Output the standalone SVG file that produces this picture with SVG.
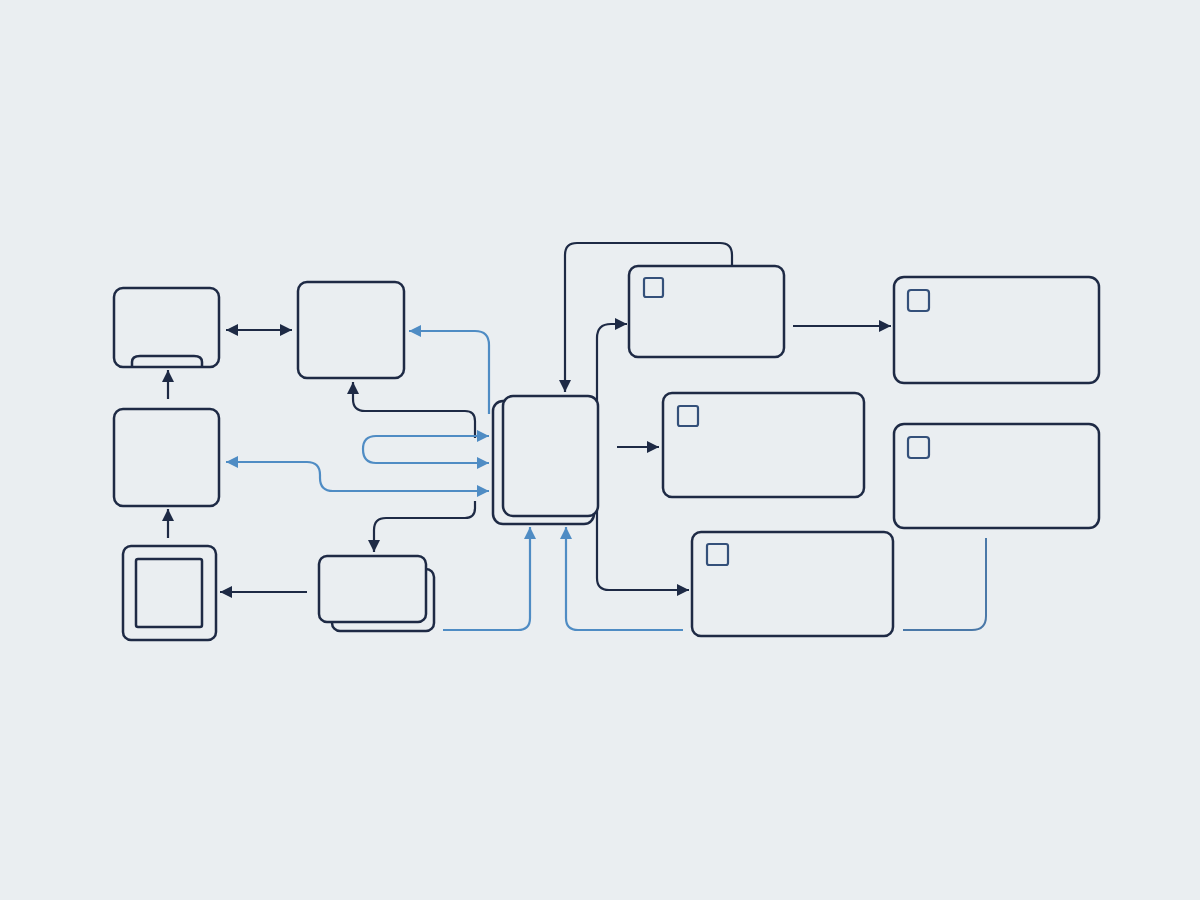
<svg xmlns="http://www.w3.org/2000/svg" width="1200" height="900" viewBox="0 0 1200 900">
<defs>
<style>
.n{fill:none;stroke:#1e2a45;stroke-width:2.5}
.f{fill:#eaeef1;stroke:#1e2a45;stroke-width:2.5}
.ic{fill:none;stroke:#34507a;stroke-width:2.2}
.d{fill:none;stroke:#1e2a45;stroke-width:2.2}
.b{fill:none;stroke:#4f8cc4;stroke-width:2.2}
</style>
<marker id="ad" viewBox="0 0 10 10" refX="10" refY="5" markerWidth="5.5" markerHeight="5.5" markerUnits="strokeWidth" orient="auto-start-reverse"><path d="M0,0 L10,5 L0,10 z" fill="#1e2a45"/></marker>
<marker id="ab" viewBox="0 0 10 10" refX="10" refY="5" markerWidth="5.5" markerHeight="5.5" markerUnits="strokeWidth" orient="auto-start-reverse"><path d="M0,0 L10,5 L0,10 z" fill="#4f8cc4"/></marker>
</defs>
<rect width="1200" height="900" fill="#eaeef1"/>

<g id="connectors">
<path class="d" d="M226,330 H292" marker-start="url(#ad)" marker-end="url(#ad)"/>
<path class="d" d="M168,399 V370" marker-end="url(#ad)"/>
<path class="d" d="M168,538 V509" marker-end="url(#ad)"/>
<path class="d" d="M307,592 H220" marker-end="url(#ad)"/>
<path class="d" d="M475,438 V421 Q475,411 465,411 H365 Q353,411 353,399 V382" marker-end="url(#ad)"/>
<path class="d" d="M475,501 V508 Q475,518 465,518 H386 Q374,518 374,530 V552" marker-end="url(#ad)"/>
<path class="b" d="M489,414 V345 Q489,331 475,331 H409" marker-end="url(#ab)"/>
<path class="b" d="M363,449 Q363,436 376,436 H489" marker-end="url(#ab)"/>
<path class="b" d="M363,449 Q363,463 376,463 H489" marker-end="url(#ab)"/>
<path class="b" d="M226,462 H307 Q320,462 320,475 V478 Q320,491 333,491 H489" marker-start="url(#ab)" marker-end="url(#ab)"/>
<path class="b" d="M443,630 H518 Q530,630 530,618 V527" marker-end="url(#ab)"/>
<path class="b" d="M683,630 H578 Q566,630 566,618 V527" marker-end="url(#ab)"/>
<path class="d" d="M732,265 V255 Q732,243 720,243 H577 Q565,243 565,255 V392" marker-end="url(#ad)"/>
<path class="d" d="M597,450 V338 Q597,324 611,324 H627" marker-end="url(#ad)"/>
<path class="d" d="M597,450 V578 Q597,590 609,590 H689" marker-end="url(#ad)"/>
<path class="d" d="M617,447 H659" marker-end="url(#ad)"/>
<path class="d" d="M793,326 H891" marker-end="url(#ad)"/>
<path d="M903,630 H972 Q986,630 986,616 V538" fill="none" stroke="#4a78a8" stroke-width="2"/>
</g>

<g id="nodeA">
<rect class="n" x="114" y="288" width="105" height="79" rx="9"/>
<path class="n" d="M132,367 V362 Q132,356 140,356 H194 Q202,356 202,362 V367"/>
</g>
<g id="nodeB"><rect class="n" x="298" y="282" width="106" height="96" rx="9"/></g>
<g id="nodeC"><rect class="n" x="114" y="409" width="105" height="97" rx="9"/></g>
<g id="nodeD">
<rect class="n" x="123" y="546" width="93" height="94" rx="8"/>
<rect class="n" x="136" y="559" width="66" height="68" rx="2"/>
</g>
<g id="nodeE">
<rect class="n" x="332" y="569" width="102" height="62" rx="8"/>
<rect class="f" x="319" y="556" width="107" height="66" rx="8"/>
</g>
<g id="nodeCenter">
<rect class="n" x="493" y="401" width="101" height="123" rx="10"/>
<rect class="f" x="503" y="396" width="95" height="120" rx="10"/>
</g>
<g id="nodeF">
<rect class="n" x="629" y="266" width="155" height="91" rx="9"/>
<rect class="ic" x="644" y="278" width="19" height="19" rx="2"/>
</g>
<g id="nodeG">
<rect class="n" x="663" y="393" width="201" height="104" rx="9"/>
<rect class="ic" x="678" y="406" width="20" height="20" rx="2"/>
</g>
<g id="nodeH">
<rect class="n" x="692" y="532" width="201" height="104" rx="9"/>
<rect class="ic" x="707" y="544" width="21" height="21" rx="2"/>
</g>
<g id="nodeI">
<rect class="n" x="894" y="277" width="205" height="106" rx="10"/>
<rect class="ic" x="908" y="290" width="21" height="21" rx="3"/>
</g>
<g id="nodeJ">
<rect class="n" x="894" y="424" width="205" height="104" rx="10"/>
<rect class="ic" x="908" y="437" width="21" height="21" rx="3"/>
</g>
</svg>
